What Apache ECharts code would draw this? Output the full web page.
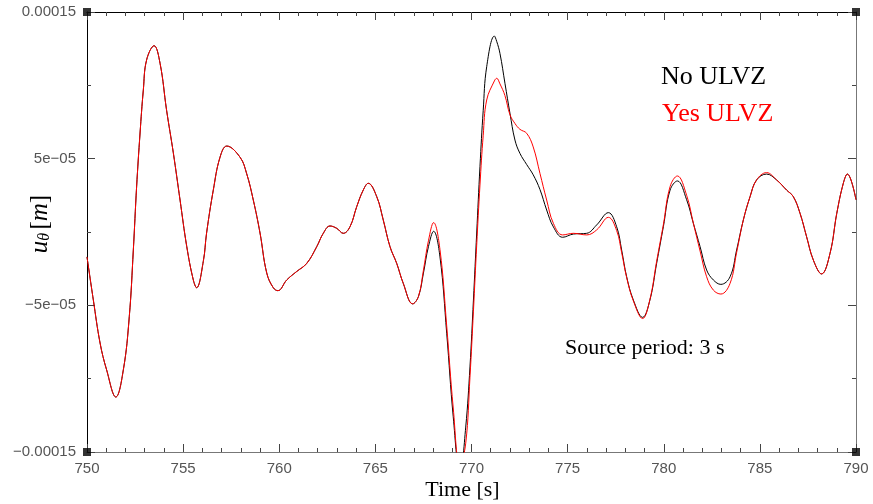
<!DOCTYPE html>
<html>
<head>
<meta charset="utf-8">
<script src="https://cdn.jsdelivr.net/npm/echarts@6/dist/echarts.min.js"></script>
<style>html,body{margin:0;padding:0;background:#fff;}#c{width:873px;height:504px;}</style>
</head>
<body>
<div id="c"></div>
<script>
// time samples [s]
var times = [750.00,750.33,750.68,751.02,751.50,751.89,752.20,752.41,752.58,752.76,752.93,753.10,753.49,753.80,754.14,754.49,754.84,755.19,755.53,755.70,756.05,756.22,756.57,756.92,757.27,757.96,758.30,758.65,759.00,759.35,759.69,759.93,760.39,760.90,761.43,761.95,762.29,762.64,762.99,763.33,763.68,764.03,764.37,764.63,765.07,765.41,765.76,766.11,766.45,766.94,767.24,767.50,767.76,768.03,768.36,768.71,769.05,769.40,769.70,769.92,770.10,770.27,770.44,770.61,770.79,771.19,771.31,771.48,771.74,772.00,772.26,772.52,772.87,773.21,773.56,773.91,774.26,774.74,775.30,775.99,776.51,777.12,777.55,777.81,778.07,778.42,778.90,779.28,779.63,779.98,780.33,780.71,781.19,781.54,781.89,782.23,782.58,782.97,783.45,783.79,784.14,784.49,784.83,785.35,785.87,786.39,786.74,787.09,787.43,787.78,788.21,788.65,789.00,789.34,789.55,790.00];
// u_theta in units of 1e-5 m
var noUlvz = [-1.70,-4.64,-7.57,-9.40,-11.25,-9.40,-5.77,-1.23,3.07,6.75,9.68,11.73,12.70,11.50,8.30,5.40,2.18,-1.00,-3.27,-3.80,-2.00,-0.07,2.86,5.10,5.86,5.10,4.00,2.18,-0.07,-2.80,-3.80,-4.00,-3.27,-2.70,-2.14,-1.00,-0.09,0.41,0.25,-0.09,0.36,1.73,2.86,3.32,2.41,0.82,-1.00,-2.14,-3.50,-4.90,-4.40,-2.80,-1.00,0.05,-1.70,-6.90,-12.60,-16.50,-13.30,-9.20,-4.64,-0.07,4.45,8.30,11.27,13.36,13.00,12.18,10.14,8.10,6.27,5.36,4.60,3.90,2.90,1.50,0.35,-0.36,-0.14,-0.09,0.48,1.32,0.36,-1.23,-3.05,-4.64,-5.82,-4.64,-2.14,0.36,2.86,3.48,2.20,0.59,-1.00,-2.59,-3.27,-3.57,-3.05,-1.23,0.82,2.41,3.55,3.95,3.55,2.86,2.41,1.27,-0.32,-1.91,-2.86,-1.45,1.27,3.32,3.95,2.20];
var yesUlvz = [-1.70,-4.64,-7.57,-9.40,-11.25,-9.40,-5.77,-1.23,3.07,6.75,9.68,11.73,12.70,11.50,8.30,5.40,2.18,-1.00,-3.27,-3.80,-2.00,-0.07,2.86,5.10,5.86,5.10,4.00,2.18,-0.07,-2.80,-3.80,-4.00,-3.27,-2.70,-2.14,-1.00,-0.09,0.41,0.25,-0.09,0.36,1.73,2.86,3.32,2.41,0.82,-1.00,-2.14,-3.50,-4.90,-4.40,-2.60,-0.60,0.64,-1.20,-6.40,-12.00,-16.00,-14.40,-9.90,-5.40,-0.90,3.20,6.60,9.00,10.30,10.48,10.10,9.30,8.00,7.40,7.00,6.73,5.80,4.00,2.18,0.59,-0.20,-0.09,-0.20,0.14,1.00,0.10,-1.40,-3.10,-4.70,-5.90,-4.60,-2.00,0.50,3.10,3.82,2.50,0.60,-1.30,-3.05,-3.96,-4.23,-3.50,-1.40,0.82,2.41,3.55,4.05,3.55,2.86,2.41,1.27,-0.32,-1.91,-2.86,-1.45,1.27,3.32,3.95,2.20];
var yTickLabels = {"15":"0.00015","5":"5e\u221205","-5":"\u22125e\u221205","-15":"\u22120.00015"};
var xRange = [750, 790];
var yRange = [-15, 15];

var chart = echarts.init(document.getElementById('c'), null, {renderer:'canvas'});
function pairs(vals){ return times.map(function(t,i){ return [t, vals[i]]; }); }
var tickFont = {fontFamily:'Liberation Sans, DejaVu Sans, sans-serif', fontSize:15, color:'#555'};
var serif = 'Liberation Serif, DejaVu Serif, serif';
function xAx(pos, showLabel, lineColor){
  return {
    type:'value', position:pos, min:xRange[0], max:xRange[1], interval:5,
    axisLine:{show:true, onZero:false, lineStyle:{color:lineColor, width:1}},
    axisTick:{show:true, inside:true, length:8, lineStyle:{color:'#444'}},
    minorTick:{show:true, splitNumber:5, length:4, lineStyle:{color:'#444'}},
    splitLine:{show:false}, minorSplitLine:{show:false},
    axisLabel:Object.assign({show:showLabel, margin:9}, tickFont),
    name: showLabel ? 'Time [s]' : '', nameLocation:'middle', nameGap:27, nameMoveOverlap:false,
    nameTextStyle:{fontFamily:serif, fontSize:22, color:'#000', padding:[0,18,0,0]}
  };
}
function yAx(pos, showLabel, lineColor){
  return {
    type:'value', position:pos, min:yRange[0], max:yRange[1], interval:10,
    axisLine:{show:true, onZero:false, lineStyle:{color:lineColor, width:1}},
    axisTick:{show:true, inside:true, length:8, lineStyle:{color:'#444'}},
    minorTick:{show:true, splitNumber:2, length:4, lineStyle:{color:'#444'}},
    splitLine:{show:false}, minorSplitLine:{show:false},
    axisLabel:Object.assign({show:showLabel, margin:11, formatter:function(v){ return yTickLabels[String(Math.round(v))] || ''; }}, tickFont),
    name: showLabel ? '{i|u}{s|\u03b8} {n|[}{i|m}{n|]}' : '', nameLocation:'middle', nameGap:34, nameRotate:90, nameMoveOverlap:false,
    nameTextStyle:{padding:[0,0,0,16], rich:{
      i:{fontFamily:serif, fontStyle:'italic', fontSize:25, color:'#000'},
      s:{fontFamily:serif, fontStyle:'italic', fontSize:16, color:'#000', verticalAlign:'bottom', padding:[10,0,0,0]},
      n:{fontFamily:serif, fontSize:25, color:'#000'}
    }}
  };
}
var corners = [[xRange[0],yRange[0]],[xRange[0],yRange[1]],[xRange[1],yRange[0]],[xRange[1],yRange[1]]];
chart.setOption({
  animation:false,
  backgroundColor:'#fff',
  grid:{left:87, right:17, top:12, bottom:52, containLabel:false, outerBoundsMode:'none'},
  xAxis:[xAx('bottom', true, '#777'), xAx('top', false, '#000')],
  yAxis:[yAx('left', true, '#000'), yAx('right', false, '#777')],
  series:[
    {type:'line', name:'No ULVZ', data:pairs(noUlvz), smooth:0.4, showSymbol:false, lineStyle:{color:'#000', width:1}, itemStyle:{color:'#000'}, z:2},
    {type:'line', name:'Yes ULVZ', data:pairs(yesUlvz), smooth:0.4, showSymbol:false, lineStyle:{color:'#ff0000', width:1}, itemStyle:{color:'#ff0000'}, z:3},
    {type:'scatter', data:corners, symbol:'rect', symbolSize:8, itemStyle:{color:'#000'}, clip:false, silent:true, z:5}
  ],
  graphic:[
    {type:'text', left:661, top:64, style:{text:'No ULVZ', fontFamily:serif, fontSize:26, fill:'#000'}},
    {type:'text', left:662, top:101, style:{text:'Yes ULVZ', fontFamily:serif, fontSize:26, fill:'#ff0000'}},
    {type:'text', left:565, top:337, style:{text:'Source period: 3 s', fontFamily:serif, fontSize:22, fill:'#000'}}
  ]
});
</script>
</body>
</html>
